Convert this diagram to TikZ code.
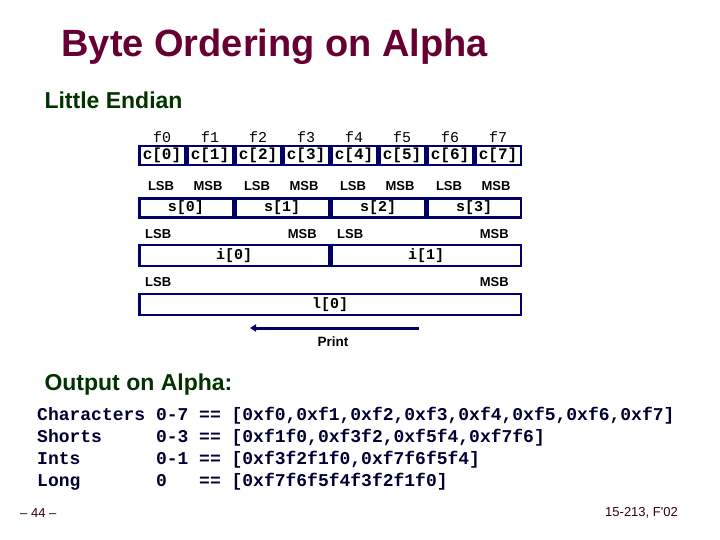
\documentclass[tikz,border=0pt]{standalone}
\usepackage{fontspec}
\setmainfont{Liberation Sans}
\setmonofont{Liberation Mono}
\usetikzlibrary{positioning,arrows.meta}
\definecolor{titlered}{HTML}{660033}
\definecolor{headgreen}{HTML}{003300}
\definecolor{boxblue}{HTML}{000066}
\definecolor{codeblue}{HTML}{000033}
\definecolor{footdark}{HTML}{330011}

\begin{document}
\begin{tikzpicture}[x=1pt,y=-1pt,
    membox/.style={draw=boxblue,line width=2.5pt,minimum height=19pt,inner sep=0pt,
      font=\fontsize{15}{15}\selectfont\ttfamily\bfseries},
    bytelabel/.style={font=\fontsize{15}{15}\selectfont\ttfamily},
    sigbit/.style={inner sep=0pt,font=\fontsize{13}{13}\selectfont\bfseries},
    heading/.style={anchor=base west,text=headgreen,font=\fontsize{23}{23}\selectfont\bfseries},
    codeline/.style={anchor=base west,inner sep=0pt,text=codeblue,
      font=\fontsize{18}{18}\selectfont\ttfamily\bfseries},
    footer/.style={text=footdark,inner sep=0pt,font=\fontsize{13}{13}\selectfont}]

    \useasboundingbox (0,0) rectangle (720,540);

    \node[anchor=base west,text=titlered,font=\fontsize{38}{38}\selectfont\bfseries] (title) at (58,57) {Byte Ordering on Alpha};
    \node[heading] (little) at (41,109) {Little Endian};

    \foreach \k in {0,...,7} {
      \node[membox,minimum width=45.5pt,font=\fontsize{16}{16}\selectfont\ttfamily\bfseries] (c\k) at (162+48*\k,155.5) {c[\k]};
      \node[bytelabel] (f\k) at (162+48*\k,137) {f\k};
    }

    \foreach \k in {0,...,3} {
      \node[membox,minimum width=93.5pt] (s\k) at (186+96*\k,208) {s[\k]};
      \node[sigbit] (sl\k) at (161+96*\k,186) {LSB};
      \node[sigbit] (sm\k) at (208+96*\k,186) {MSB};
    }

    \foreach \k in {0,1} {
      \node[membox,minimum width=189.5pt,minimum height=21pt] (i\k) at (234+192*\k,255.5) {i[\k]};
      \node[sigbit,anchor=west] (il\k) at ([xshift=7pt]i\k.west |- 0,234) {LSB};
      \node[sigbit,anchor=east] (im\k) at ([xshift=-13pt]i\k.east |- 0,234) {MSB};
    }

    \node[membox,minimum width=381.5pt,minimum height=21pt] (l0) at (330,304.5) {l[0]};
    \node[sigbit,anchor=west] (ll0) at ([xshift=7pt]l0.west |- 0,282) {LSB};
    \node[sigbit,anchor=east] (lm0) at ([xshift=-13pt]l0.east |- 0,282) {MSB};

    \coordinate (printfrom) at (419,328);
    \coordinate (printto) at (250,328);
    \draw[boxblue,line width=3pt,-{Triangle[length=6pt,width=7pt]}] (printfrom) -- (printto);
    \node[sigbit,font=\fontsize{13.5}{13.5}\selectfont\bfseries] (print) at (333,342) {Print};

    \node[heading] (output) at (41,390) {Output on Alpha:};
    \node[codeline] (chars) at (37,420) {Characters 0-7 == [0xf0,0xf1,0xf2,0xf3,0xf4,0xf5,0xf6,0xf7]};
    \node[codeline] (shorts) at (37,442) {Shorts\ \ \ \ \ 0-3 == [0xf1f0,0xf3f2,0xf5f4,0xf7f6]};
    \node[codeline] (ints) at (37,464) {Ints\ \ \ \ \ \ \ 0-1 == [0xf3f2f1f0,0xf7f6f5f4]};
    \node[codeline] (longs) at (37,486) {Long\ \ \ \ \ \ \ 0\ \ \ == [0xf7f6f5f4f3f2f1f0]};

    \node[footer,anchor=west] (pagenum) at (20,513) {-- 44 --};
    \node[footer,anchor=east] (course) at (678,513) {15-213, F\textquotesingle 02};
\end{tikzpicture}
\end{document}
